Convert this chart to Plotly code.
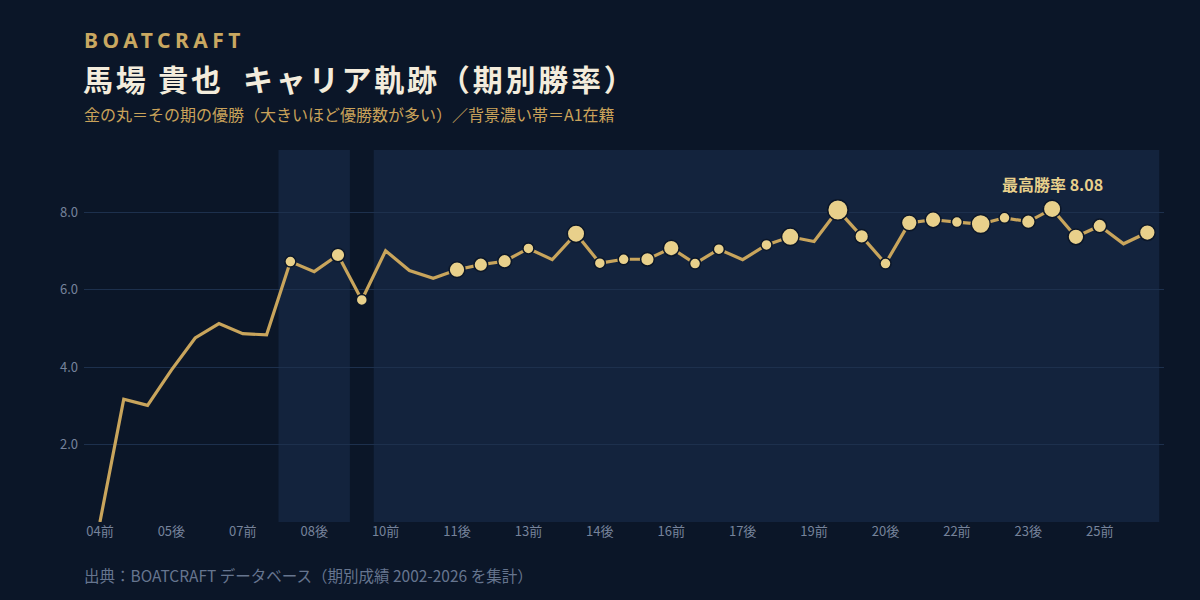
import plotly.graph_objects as go

periods = [
    "04前", "04後", "05前", "05後", "06前", "06後", "07前", "07後", "08前", "08後",
    "09前", "09後", "10前", "10後", "11前", "11後", "12前", "12後", "13前", "13後",
    "14前", "14後", "15前", "15後", "16前", "16後", "17前", "17後", "18前", "18後",
    "19前", "19後", "20前", "20後", "21前", "21後", "22前", "22後", "23前", "23後",
    "24前", "24後", "25前", "25後", "26前",
]
win_rate = [
    0.00, 3.17, 3.01, 3.92, 4.75, 5.12, 4.86, 4.83, 6.72, 6.46,
    6.89, 5.73, 7.00, 6.49, 6.29, 6.51, 6.64, 6.73, 7.06, 6.77,
    7.44, 6.68, 6.78, 6.78, 7.07, 6.67, 7.04, 6.77, 7.15, 7.36,
    7.24, 8.05, 7.37, 6.67, 7.72, 7.80, 7.74, 7.69, 7.85, 7.75,
    8.08, 7.36, 7.64, 7.18, 7.47,
]
wins = [
    0, 0, 0, 0, 0, 0, 0, 0, 1, 0,
    2, 1, 0, 0, 0, 3, 2, 2, 1, 0,
    4, 1, 1, 2, 3, 1, 1, 0, 1, 4,
    0, 6, 2, 1, 3, 3, 1, 5, 1, 2,
    4, 3, 2, 0, 3,
]
a1 = [
    0, 0, 0, 0, 0, 0, 0, 0, 1, 1,
    1, 0, 1, 1, 1, 1, 1, 1, 1, 1,
    1, 1, 1, 1, 1, 1, 1, 1, 1, 1,
    1, 1, 1, 1, 1, 1, 1, 1, 1, 1,
    1, 1, 1, 1, 1,
]
tick_labels = ["04前", "05後", "07前", "08後", "10前", "11後", "13前", "14後",
               "16前", "17後", "19前", "20後", "22前", "23後", "25前"]
y_ticks = [2, 4, 6, 8]

BG = "#0b1628"
BAND = "#13233d"
GRID = "#1d304d"
GOLD_LINE = "#c9a55c"
GOLD_DOT = "#e8d08b"
TEXT_GRAY = "#76839b"

x = list(range(len(periods)))

fig = go.Figure()

# A1 bands from contiguous runs
shapes = []
i = 0
n = len(a1)
while i < n:
    if a1[i]:
        j = i
        while j + 1 < n and a1[j + 1]:
            j += 1
        shapes.append(dict(type="rect", xref="x", yref="paper", x0=i - 0.5, x1=j + 0.5,
                           y0=0, y1=1, fillcolor=BAND, line=dict(width=0), layer="below"))
        i = j + 1
    else:
        i += 1

fig.add_trace(go.Scatter(
    x=x, y=win_rate, mode="lines",
    line=dict(color=GOLD_LINE, width=3.2),
    hoverinfo="skip", showlegend=False,
))

mx = [xi for xi, w in zip(x, wins) if w > 0]
my = [r for r, w in zip(win_rate, wins) if w > 0]
ms = [4.5 + 6.5 * (w ** 0.5) for w in wins if w > 0]
fig.add_trace(go.Scatter(
    x=mx, y=my, mode="markers",
    marker=dict(size=ms, color=GOLD_DOT, opacity=1, line=dict(color=BG, width=1.5)),
    showlegend=False,
))

best = max(range(n), key=lambda k: win_rate[k])

annotations = [
    dict(text=f"最高勝率 {win_rate[best]:.2f}", x=best, y=win_rate[best], xref="x", yref="y",
         showarrow=False, yshift=25, font=dict(family="Noto Sans CJK JP", size=16, color=GOLD_DOT, weight="bold")),
    dict(text="<span style='letter-spacing:4.5px'>BOATCRAFT</span>", xref="paper", yref="paper",
         x=-0.002, y=(522 - 40) / 372, xanchor="left", yanchor="middle", showarrow=False,
         font=dict(family="Noto Sans", size=21, color="#c9a861", weight="bold")),
    dict(text="<span style='letter-spacing:2.8px'>馬場 貴也  キャリア軌跡（期別勝率）</span>", xref="paper", yref="paper",
         x=-0.003, y=(522 - 78) / 372, xanchor="left", yanchor="middle", showarrow=False,
         font=dict(family="Noto Sans CJK JP", size=30, color="#f3ecdc", weight="bold")),
    dict(text="金の丸＝その期の優勝（大きいほど優勝数が多い）／背景濃い帯＝A1在籍", xref="paper", yref="paper",
         x=-0.002, y=(522 - 114) / 372, xanchor="left", yanchor="middle", showarrow=False,
         font=dict(family="Noto Sans CJK JP", size=16, color="#c9a25a")),
    dict(text="出典：BOATCRAFT データベース（期別成績 2002-2026 を集計）", xref="paper", yref="paper",
         x=-0.002, y=(522 - 575) / 372, xanchor="left", yanchor="middle", showarrow=False,
         font=dict(family="Noto Sans CJK JP", size=15.5, color="#66758f")),
]

fig.update_layout(
    width=1200, height=600,
    paper_bgcolor=BG, plot_bgcolor=BG,
    margin=dict(l=84, r=36, t=150, b=78),
    shapes=shapes,
    annotations=annotations,
    font=dict(family="Noto Sans CJK JP", size=13, color=TEXT_GRAY),
    xaxis=dict(
        range=[-0.67, n - 1 + 0.7],
        tickmode="array",
        tickvals=[periods.index(t) for t in tick_labels],
        ticktext=tick_labels,
        showgrid=False, zeroline=False, showline=False, ticks="",
        tickfont=dict(size=13, color=TEXT_GRAY),
    ),
    yaxis=dict(
        range=[0, 9.6],
        tickmode="array", tickvals=y_ticks,
        ticktext=[f"{v:.1f}" for v in y_ticks],
        showgrid=True, gridcolor=GRID, gridwidth=1,
        zeroline=False, showline=False, ticks="",
        ticklabelstandoff=5,
        tickfont=dict(size=13, color=TEXT_GRAY),
    ),
)

fig.write_html("out.html")
